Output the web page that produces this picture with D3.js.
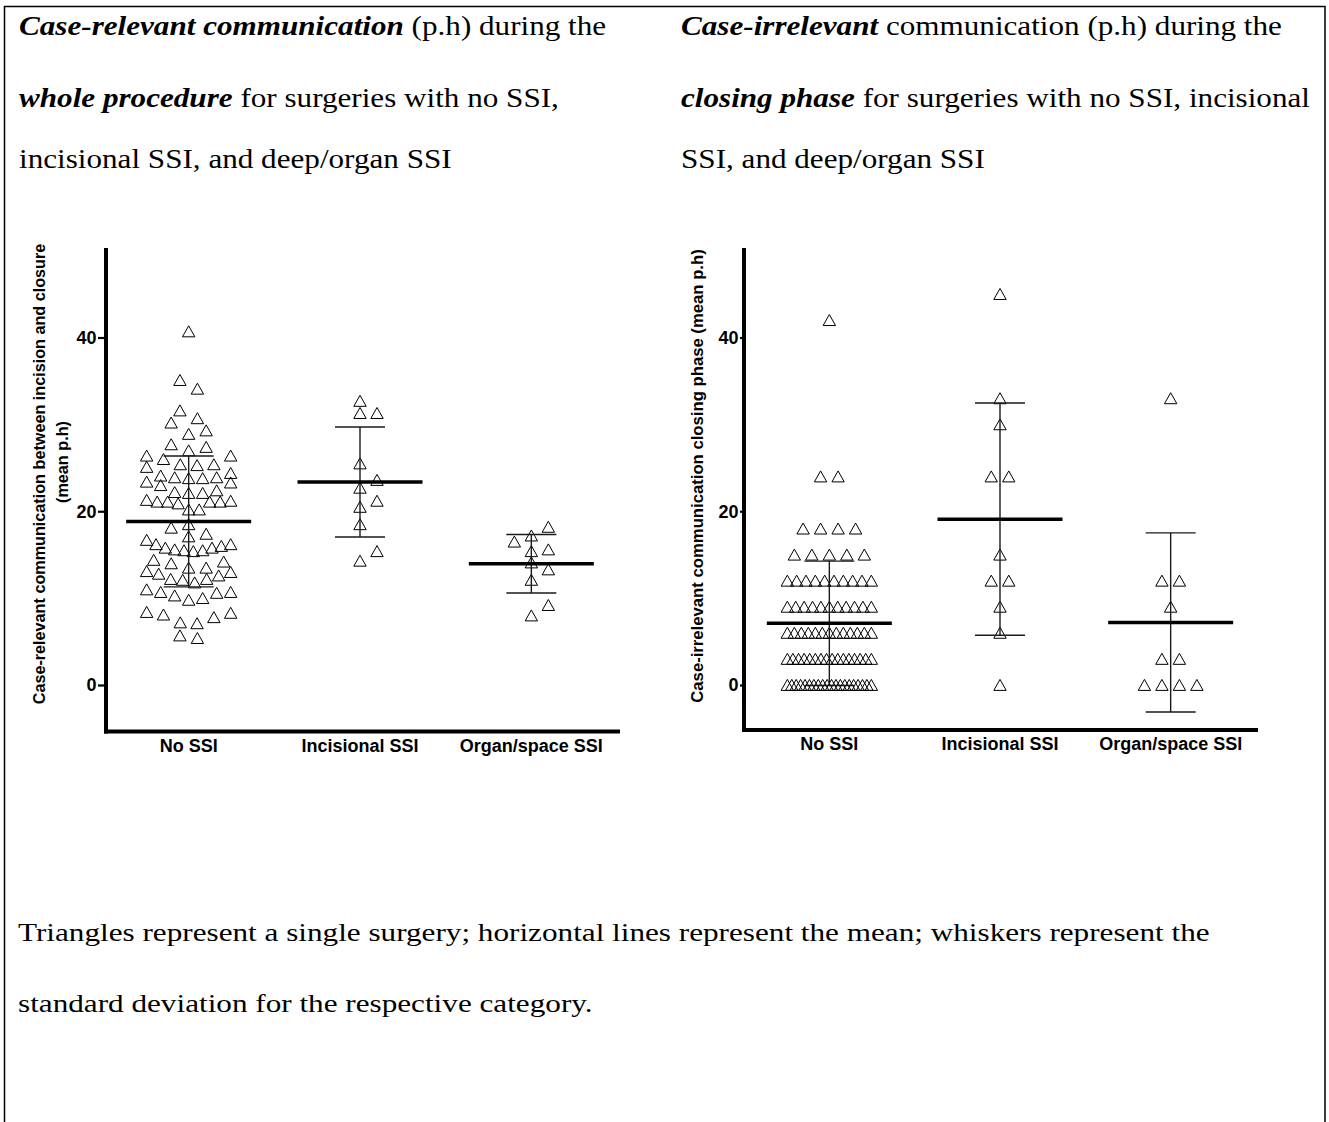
<!DOCTYPE html>
<html><head><meta charset="utf-8">
<script src="https://cdn.jsdelivr.net/npm/d3@7"></script>
<style>
html,body{margin:0;padding:0;background:#fff;}
svg{display:block;}
</style></head>
<body>
<svg id="fig" width="1329" height="1122"></svg>
<script>
// ---------------- data ----------------
const categories = ["No SSI", "Incisional SSI", "Organ/space SSI"];
const yTicks = [0, 20, 40];

// Panel A: case-relevant communication, whole procedure (mean p.h)
const relevantNoSSI = [
  40.7, 35.1, 34.1, 31.6, 30.7, 30.2, 28.9, 29.3, 27.4, 27.7, 27.0, 26.4, 26.0, 26.4,
  25.4, 25.3, 25.1, 25.4,
  24.4, 23.9, 23.9, 23.4, 23.0, 23.3, 23.8, 23.8, 24.1,
  22.2, 22.1, 21.2, 21.1, 21.1, 20.9, 21.1, 21.1, 21.3, 22.1, 22.4,
  20.2, 20.2,
  18.1, 18.5, 17.1, 17.4,
  16.2, 15.8, 16.2, 16.0, 16.7, 15.8, 15.6, 15.5, 15.4, 15.5,
  14.4, 14.0, 14.2, 13.5, 13.5,
  13.1, 12.8, 12.2, 12.2, 11.8, 12.1, 12.6, 13.0,
  11.0, 10.7, 10.3, 9.8, 10.0, 10.6, 10.7,
  8.4, 7.1, 8.1, 7.8, 7.2, 8.3,
  5.4, 5.7
];
const relevantIncisional = [32.7, 31.3, 31.3, 25.5, 23.6, 22.7, 21.2, 20.5, 18.5, 15.4, 14.3];
const relevantOrgan = [18.2, 16.5, 17.2, 15.4, 15.6, 14.1, 13.3, 12.1, 9.2, 8.0];

// Panel B: case-irrelevant communication, closing phase (mean p.h)
const irrelevantNoSSI = [
  0, 0, 0, 0, 0, 0, 0, 0, 0, 0, 0, 0, 0, 0, 0, 0, 0, 0, 0, 0,
  3, 3, 3, 3, 3, 3, 3, 3, 3, 3, 3, 3, 3, 3, 3, 3,
  6, 6, 6, 6, 6, 6, 6, 6, 6, 6, 6, 6, 6,
  9, 9, 9, 9, 9, 9, 9, 9, 9, 9, 9,
  12, 12, 12, 12, 12, 12, 12, 12, 12, 12,
  15, 15, 15, 15, 15,
  18, 18, 18, 18,
  24, 24,
  42
];
const irrelevantIncisional = [45, 33, 30, 24, 24, 15, 12, 12, 9, 6, 0];
const irrelevantOrgan = [33, 12, 12, 9, 3, 3, 0, 0, 0, 0];

const yLabelA = ["Case-relevant communication between incision and closure", "(mean p.h)"];
const yLabelB = ["Case-irrelevant communication closing phase (mean p.h)"];

const titleA = [
  [["Case-relevant communication", true], [" (p.h) during the", false]],
  [["whole procedure", true], [" for surgeries with no SSI,", false]],
  [["incisional SSI, and deep/organ SSI", false]]
];
const titleB = [
  [["Case-irrelevant", true], [" communication (p.h) during the", false]],
  [["closing phase", true], [" for surgeries with no SSI, incisional", false]],
  [["SSI, and deep/organ SSI", false]]
];
const footer = [
  "Triangles represent a single surgery; horizontal lines represent the mean; whiskers represent the",
  "standard deviation for the respective category."
];

// ---------------- drawing ----------------
const svg = d3.select("#fig");
const SERIF = "'Liberation Serif','Times New Roman',Times,serif";
const SANS = "'Liberation Sans',Arial,Helvetica,sans-serif";

svg.append("rect").attr("width", 1329).attr("height", 1122).attr("fill", "#fff");
svg.append("rect")
  .attr("x", 4.5).attr("y", 6.5).attr("width", 1320.5).attr("height", 1140)
  .attr("fill", "none").attr("stroke", "#000").attr("stroke-width", 1.5);

function drawTitle(x, lines, baselines) {
  lines.forEach((parts, i) => {
    const t = svg.append("text")
      .attr("transform", `translate(${x},${baselines[i]}) scale(1.175,1)`)
      .attr("font-family", SERIF).attr("font-size", 26.5).attr("fill", "#000")
      .attr("xml:space", "preserve");
    parts.forEach(([s, b]) => {
      t.append("tspan").text(s)
        .attr("font-weight", b ? "bold" : "normal")
        .attr("font-style", b ? "italic" : "normal");
    });
  });
}
drawTitle(19, titleA, [35, 107, 168]);
drawTitle(681, titleB, [35, 107, 168]);

footer.forEach((s, i) => {
  svg.append("text")
    .attr("transform", `translate(18,${[941, 1012][i]}) scale(1.2,1)`)
    .attr("font-family", SERIF).attr("font-size", 26).attr("fill", "#000").text(s);
});

// Row layout (GraphPad style rows, compressed when crowded)
function rowLayout(values, yScale, H, P, W) {
  const sorted = values.slice().sort((a, b) => a - b);
  const rows = [];
  let cur = null;
  sorted.forEach(v => {
    if (!cur || Math.abs(yScale(v) - yScale(cur[0])) > H) { cur = [v]; rows.push(cur); }
    else cur.push(v);
  });
  const out = [];
  rows.forEach(r => {
    const n = r.length;
    const p = n > 1 ? Math.min(P, W / (n - 1)) : 0;
    const slots = d3.range(n).map(i => (i - (n - 1) / 2) * p);
    const order = d3.range(n).sort((a, b) => (Math.abs(slots[a]) - Math.abs(slots[b])) || (slots[b] - slots[a]));
    r.forEach((v, i) => out.push({ v, dx: slots[order[i]] }));
  });
  return out;
}

// Collision beeswarm for sparse continuous groups
function beeswarm(values, yScale, step, cw, ch, maxOff) {
  const sorted = values.slice().sort((a, b) => a - b);
  const cands = [0];
  for (let k = 1; k * step <= maxOff + 0.01; k++) { cands.push(k * step, -k * step); }
  const placed = [];
  sorted.forEach(v => {
    const yy = yScale(v);
    let best = null, bestCost = Infinity;
    for (const c of cands) {
      let cost = 0;
      for (const p of placed) {
        const ox = cw - Math.abs(p.dx - c), oy = ch - Math.abs(p.y - yy);
        if (ox > 0 && oy > 0) cost += ox * oy;
      }
      if (cost === 0) { best = c; bestCost = 0; break; }
      if (cost < bestCost - 1e-9) { bestCost = cost; best = c; }
    }
    placed.push({ v, y: yy, dx: best });
  });
  return placed;
}

const tri = d3.line()([[0, -5.6], [6.2, 5.4], [-6.2, 5.4]]) + "Z";

function drawChart(cfg) {
  const g = svg.append("g");
  const x = d3.scaleBand().domain(categories).range(cfg.band);
  const y = d3.scaleLinear().domain([0, 40]).range([685, 337.5]);

  const ya = g.append("g").attr("transform", `translate(${cfg.axisX},0)`)
    .call(d3.axisLeft(y).tickValues(yTicks).tickSize(cfg.tick).tickPadding(cfg.pad).tickFormat(d3.format("d")));
  ya.select(".domain").remove();
  ya.selectAll(".tick line").attr("stroke", "#000").attr("stroke-width", 2.2);
  ya.selectAll(".tick text").attr("font-family", SANS).attr("font-weight", "bold")
    .attr("font-size", 18).attr("fill", "#000");

  const xa = g.append("g").attr("transform", `translate(0,${cfg.axisY})`)
    .call(d3.axisBottom(x).tickSize(0).tickPadding(7.5));
  xa.select(".domain").remove();
  xa.selectAll(".tick text").attr("font-family", SANS).attr("font-weight", "bold")
    .attr("font-size", 18).attr("fill", "#000");

  g.append("line").attr("x1", cfg.axisX).attr("x2", cfg.axisX)
    .attr("y1", y(50.3)).attr("y2", cfg.axisY + 2)
    .attr("stroke", "#000").attr("stroke-width", 4);
  g.append("line").attr("x1", cfg.axisX - 2).attr("x2", cfg.xEnd)
    .attr("y1", cfg.axisY).attr("y2", cfg.axisY)
    .attr("stroke", "#000").attr("stroke-width", 4);

  cfg.yLabel.forEach((s, i) => {
    g.append("text")
      .attr("transform", `translate(${cfg.labelX[i]},${cfg.labelY[i]}) rotate(-90)`)
      .attr("text-anchor", "middle").attr("dominant-baseline", "central")
      .attr("font-family", SANS).attr("font-weight", "bold")
      .attr("font-size", cfg.labelSize).attr("fill", "#000").text(s);
  });

  cfg.series.forEach((vals, i) => {
    const cx = x(categories[i]) + x.bandwidth() / 2;
    const m = d3.mean(vals), sd = d3.deviation(vals);
    const useSwarm = cfg.continuous && vals.length <= 30;
    const pts = useSwarm
      ? beeswarm(vals, y, 8.5, 16, 11, 42.5)
      : rowLayout(vals, y, 12, 17.5, 84);

    g.append("g").selectAll("path").data(pts).join("path")
      .attr("d", tri)
      .attr("transform", d => `translate(${cx + d.dx},${y(d.v)})`)
      .attr("fill", "none").attr("stroke", "#000").attr("stroke-width", 1);

    const w = g.append("g").attr("stroke", "#1a1a1a").attr("stroke-width", 1.4);
    w.append("line").attr("x1", cx).attr("x2", cx).attr("y1", y(m + sd)).attr("y2", y(m - sd));
    w.append("line").attr("x1", cx - 25).attr("x2", cx + 25).attr("y1", y(m + sd)).attr("y2", y(m + sd));
    w.append("line").attr("x1", cx - 25).attr("x2", cx + 25).attr("y1", y(m - sd)).attr("y2", y(m - sd));

    g.append("line").attr("x1", cx - 62.5).attr("x2", cx + 62.5)
      .attr("y1", y(m)).attr("y2", y(m))
      .attr("stroke", "#000").attr("stroke-width", 3.5);
  });
}

drawChart({
  band: [103, 617], axisX: 106, axisY: 731.5, xEnd: 620, tick: 8, pad: 1.5, continuous: true,
  series: [relevantNoSSI, relevantIncisional, relevantOrgan],
  yLabel: yLabelA, labelX: [39, 61.5], labelY: [474, 462], labelSize: 16.2
});
drawChart({
  band: [744, 1256], axisX: 744, axisY: 730, xEnd: 1258, tick: 4, pad: 1.5, continuous: false,
  series: [irrelevantNoSSI, irrelevantIncisional, irrelevantOrgan],
  yLabel: yLabelB, labelX: [697], labelY: [476], labelSize: 16.7
});
</script>
</body></html>
